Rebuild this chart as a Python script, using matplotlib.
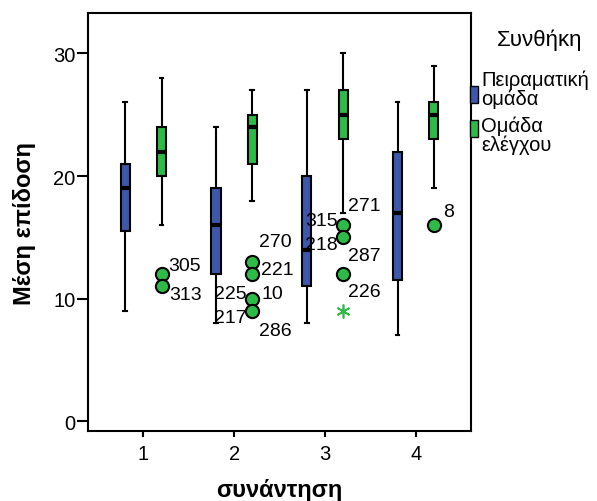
import matplotlib
matplotlib.use("Agg")
import matplotlib.pyplot as plt
from matplotlib.patches import Rectangle

plt.rcParams['font.family'] = ['Liberation Sans', 'DejaVu Sans']

meetings = [1, 2, 3, 4]
groups = ['Πειραματική\nομάδα', 'Ομάδα\nελέγχου']

# box statistics per meeting: experimental / control
exp_low = [9, 8, 8, 7]
exp_q1 = [15.5, 12, 11, 11.5]
exp_med = [19, 16, 14, 17]
exp_q3 = [21, 19, 20, 22]
exp_high = [26, 24, 27, 26]

ctl_low = [16, 18, 17, 19]
ctl_q1 = [20, 21, 23, 23]
ctl_med = [22, 24, 25, 25]
ctl_q3 = [24, 25, 27, 26]
ctl_high = [28, 27, 30, 29]

# control-group outliers (meeting, value) and case labels
out_meeting = [1, 1, 2, 2, 2, 2, 3, 3, 3, 4]
out_value = [12, 11, 13, 12, 10, 9, 16, 15, 12, 16]
extreme_meeting = [3]
extreme_value = [9]

lbl_text = ['305', '313', '270', '221', '225', '10', '217', '286',
            '315', '271', '218', '287', '226', '8']
lbl_meeting = [1, 1, 2, 2, 2, 2, 2, 2, 3, 3, 3, 3, 3, 4]
lbl_value = [12.7, 10.3, 14.7, 12.35, 10.4, 10.4, 8.45, 7.4,
             16.35, 17.6, 14.4, 13.5, 10.6, 17.1]
lbl_dx = [0.073, 0.08, 0.076, 0.098, -0.417, 0.106, -0.42, 0.076,
          -0.417, 0.057, -0.417, 0.057, 0.057, 0.108]

blue = '#3D58AA'
green = '#2EBA46'
off = 0.2

fig = plt.figure(figsize=(5.97, 5.02), dpi=100)
ax = fig.add_axes([0.1474, 0.1394, 0.6416, 0.8327])

def stats(low, q1, med, q3, high):
    return [dict(whislo=a, q1=b, med=c, q3=d, whishi=e, fliers=[])
            for a, b, c, d, e in zip(low, q1, med, q3, high)]

for st, shift, col in [(stats(exp_low, exp_q1, exp_med, exp_q3, exp_high), -off, blue),
                       (stats(ctl_low, ctl_q1, ctl_med, ctl_q3, ctl_high), off, green)]:
    ax.bxp(st, positions=[m + shift for m in meetings], widths=0.1,
           patch_artist=True, showfliers=False, manage_ticks=False,
           boxprops=dict(facecolor=col, edgecolor='black', linewidth=1.5),
           medianprops=dict(color='black', linewidth=3),
           whiskerprops=dict(color='black', linewidth=1.5),
           capprops=dict(color='black', linewidth=1.5),
           capwidths=0.04)

ax.plot([m + off for m in out_meeting], out_value, 'o', color=green,
        markeredgecolor='black', markeredgewidth=1.5, markersize=9.5,
        linestyle='none', zorder=4)
ax.plot([m + off for m in extreme_meeting], extreme_value, linestyle='none',
        marker=(6, 2, 0), color=green, markersize=10, markeredgewidth=1.2,
        zorder=4)

for t, m, v, dx in zip(lbl_text, lbl_meeting, lbl_value, lbl_dx):
    ax.text(m + off + dx, v, t, fontsize=14, va='center', ha='left', zorder=5)

ax.set_xlim(0.39, 4.61)
ax.set_ylim(-0.8, 33.3)
ax.set_xticks(meetings)
ax.set_yticks([0, 10, 20, 30])
ax.tick_params(axis='y', length=8, width=1.5, pad=1, labelsize=14.5)
ax.tick_params(axis='x', length=4, width=1.5, pad=5, labelsize=14.5)
for s in ax.spines.values():
    s.set_linewidth(1.5)

ax.set_xlabel('συνάντηση', fontsize=17, fontweight='bold', labelpad=11)
ax.set_ylabel('Μέση επίδοση', fontsize=17, fontweight='bold', labelpad=12)

# legend drawn by hand to match the original layout
W, H = 597.0, 502.0
fig.text(497 / W, 1 - 40 / H, 'Συνθήκη', fontsize=16, ha='left', va='center')
for col, label, y0, ty in [(blue, groups[0], 87, 90), (green, groups[1], 121, 136)]:
    fig.patches.append(Rectangle((470 / W, 1 - (y0 + 17) / H), 8 / W, 17 / H,
                                 facecolor=col, edgecolor='black', linewidth=1,
                                 transform=fig.transFigure, figure=fig))
    fig.text(481 / W, 1 - ty / H, label, fontsize=14.5, ha='left', va='center',
             linespacing=0.95)

fig.savefig('out.png', dpi=100)
